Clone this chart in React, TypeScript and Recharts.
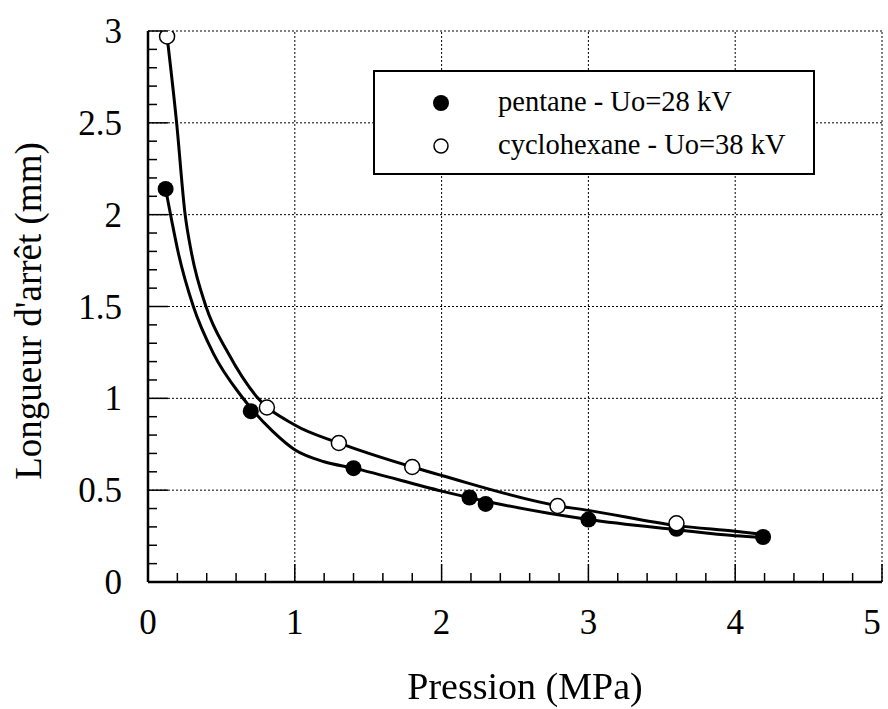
import { ComposedChart, Line, Scatter, XAxis, YAxis, ReferenceLine } from 'recharts';

// measured points
const pentanePoints = [
  { x: 0.12, y: 2.14 },
  { x: 0.7, y: 0.93 },
  { x: 1.4, y: 0.62 },
  { x: 2.19, y: 0.46 },
  { x: 2.3, y: 0.425 },
  { x: 3.0, y: 0.34 },
  { x: 3.6, y: 0.29 },
  { x: 4.19, y: 0.245 },
];

const cyclohexanePoints = [
  { x: 0.13, y: 2.97 },
  { x: 0.81, y: 0.95 },
  { x: 1.3, y: 0.757 },
  { x: 1.8, y: 0.626 },
  { x: 2.79, y: 0.414 },
  { x: 3.6, y: 0.32 },
];

// fitted curves
const pentaneCurve = [
  { x: 0.12, y: 2.14 },
  { x: 0.161, y: 1.97 },
  { x: 0.207, y: 1.79 },
  { x: 0.309, y: 1.5 },
  { x: 0.445, y: 1.245 },
  { x: 0.638, y: 1.01 },
  { x: 0.85, y: 0.82 },
  { x: 1.0, y: 0.72 },
  { x: 1.2, y: 0.655 },
  { x: 1.4, y: 0.62 },
  { x: 2.0, y: 0.495 },
  { x: 2.3, y: 0.44 },
  { x: 3.0, y: 0.34 },
  { x: 3.6, y: 0.285 },
  { x: 4.0, y: 0.252 },
  { x: 4.19, y: 0.243 },
];

const cyclohexaneCurve = [
  { x: 0.13, y: 2.97 },
  { x: 0.195, y: 2.5 },
  { x: 0.252, y: 2.007 },
  { x: 0.297, y: 1.789 },
  { x: 0.395, y: 1.5 },
  { x: 0.547, y: 1.245 },
  { x: 0.74, y: 1.009 },
  { x: 1.0, y: 0.855 },
  { x: 1.3, y: 0.757 },
  { x: 1.8, y: 0.626 },
  { x: 2.0, y: 0.58 },
  { x: 2.8, y: 0.414 },
  { x: 3.0, y: 0.39 },
  { x: 3.6, y: 0.307 },
  { x: 4.0, y: 0.276 },
  { x: 4.15, y: 0.263 },
];

const xTicks = [0, 0.2, 0.4, 0.6, 0.8, 1, 1.2, 1.4, 1.6, 1.8, 2, 2.2, 2.4, 2.6, 2.8, 3, 3.2, 3.4, 3.6, 3.8, 4, 4.2, 4.4, 4.6, 4.8, 5];
const yTicks = [0, 0.1, 0.2, 0.3, 0.4, 0.5, 0.6, 0.7, 0.8, 0.9, 1, 1.1, 1.2, 1.3, 1.4, 1.5, 1.6, 1.7, 1.8, 1.9, 2, 2.1, 2.2, 2.3, 2.4, 2.5, 2.6, 2.7, 2.8, 2.9, 3];
const xGrid = [1, 2, 3, 4, 5];
const yGrid = [0.5, 1, 1.5, 2, 2.5, 3];

const FONT = "'Times New Roman', 'Liberation Serif', serif";

const isMultiple = (v: number, step: number) => Math.abs(v / step - Math.round(v / step)) < 1e-6;

const XTick = (props: any) => {
  const { x, y, payload } = props;
  const v = payload.value;
  const major = isMultiple(v, 1);
  // last label sits at the page edge, keep it inside
  const lx = v === 5 ? x - 10 : x;
  return (
    <g>
      <line x1={x} x2={x} y1={y} y2={y - (major ? 18 : 9)} stroke="#000" strokeWidth={1.5} />
      {major && (
        <text x={lx} y={y + 52} textAnchor="middle" fontSize={35} fontFamily={FONT} fill="#000">
          {String(v)}
        </text>
      )}
    </g>
  );
};

const YTick = (props: any) => {
  const { x, y, payload } = props;
  const v = payload.value;
  const major = isMultiple(v, 0.5);
  return (
    <g>
      <line x1={x} x2={x + (major ? 20 : 9)} y1={y} y2={y} stroke="#000" strokeWidth={1.5} />
      {major && (
        <text x={x - 26} y={y + 12} textAnchor="end" fontSize={35} fontFamily={FONT} fill="#000">
          {String(v)}
        </text>
      )}
    </g>
  );
};

const FilledDot = (props: any) => <circle cx={props.cx} cy={props.cy} r={8} fill="#000" />;
const OpenDot = (props: any) => (
  <circle cx={props.cx} cy={props.cy} r={7.5} fill="#fff" stroke="#000" strokeWidth={1.5} />
);

export default function App() {
  return (
    <div style={{ position: 'fixed', left: 0, top: 0, width: 888, height: 709, background: '#fff', fontFamily: FONT }}>
      <ComposedChart width={888} height={709} margin={{ top: 31, right: 6, bottom: 126, left: 147 }}>
        <XAxis
          type="number"
          dataKey="x"
          domain={[0, 5]}
          ticks={xTicks}
          interval={0}
          height={1}
          tickSize={0}
          tickMargin={0}
          tickLine={false}
          axisLine={{ stroke: '#000', strokeWidth: 2.5 }}
          tick={<XTick />}
          allowDataOverflow
        />
        <YAxis
          type="number"
          dataKey="y"
          domain={[0, 3]}
          ticks={yTicks}
          interval={0}
          width={1}
          tickSize={0}
          tickMargin={0}
          tickLine={false}
          axisLine={{ stroke: '#000', strokeWidth: 2.5 }}
          tick={<YTick />}
          allowDataOverflow
        />
        {xGrid.map((v) => (
          <ReferenceLine key={'gx' + v} x={v} stroke="#000" strokeWidth={1} strokeDasharray="2 2" />
        ))}
        {yGrid.map((v) => (
          <ReferenceLine key={'gy' + v} y={v} stroke="#000" strokeWidth={1} strokeDasharray="2 2" />
        ))}
        <Line
          data={pentaneCurve}
          dataKey="y"
          type="monotone"
          stroke="#000"
          strokeWidth={3}
          dot={false}
          activeDot={false}
          isAnimationActive={false}
        />
        <Line
          data={cyclohexaneCurve}
          dataKey="y"
          type="monotone"
          stroke="#000"
          strokeWidth={3}
          dot={false}
          activeDot={false}
          isAnimationActive={false}
        />
        <Scatter data={pentanePoints} dataKey="y" shape={<FilledDot />} isAnimationActive={false} />
        <Scatter data={cyclohexanePoints} dataKey="y" shape={<OpenDot />} isAnimationActive={false} />
      </ComposedChart>

      {/* legend box */}
      <div
        style={{
          position: 'absolute',
          left: 373,
          top: 70,
          width: 438,
          height: 101,
          border: '2px solid #000',
          background: '#fff',
          fontSize: 28.5,
          color: '#000',
        }}
      >
        <svg width={40} height={101} style={{ position: 'absolute', left: 46, top: 0 }}>
          <circle cx={20} cy={31} r={8} fill="#000" />
          <circle cx={20} cy={74} r={7} fill="#fff" stroke="#000" strokeWidth={1.5} />
        </svg>
        <div style={{ position: 'absolute', left: 123, top: 13, lineHeight: '34px', whiteSpace: 'nowrap' }}>
          pentane - Uo=28 kV
        </div>
        <div style={{ position: 'absolute', left: 123, top: 56, lineHeight: '34px', whiteSpace: 'nowrap' }}>
          cyclohexane - Uo=38 kV
        </div>
      </div>

      <div
        style={{
          position: 'absolute',
          left: 0,
          width: 1050,
          top: 667,
          textAlign: 'center',
          fontSize: 38,
          lineHeight: '38px',
          color: '#000',
        }}
      >
        Pression (MPa)
      </div>
      <div
        style={{
          position: 'absolute',
          left: 29,
          top: 311,
          transform: 'translate(-50%, -50%) rotate(-90deg)',
          fontSize: 37,
          lineHeight: '42px',
          whiteSpace: 'nowrap',
          color: '#000',
        }}
      >
        Longueur d'arrêt (mm)
      </div>
    </div>
  );
}
